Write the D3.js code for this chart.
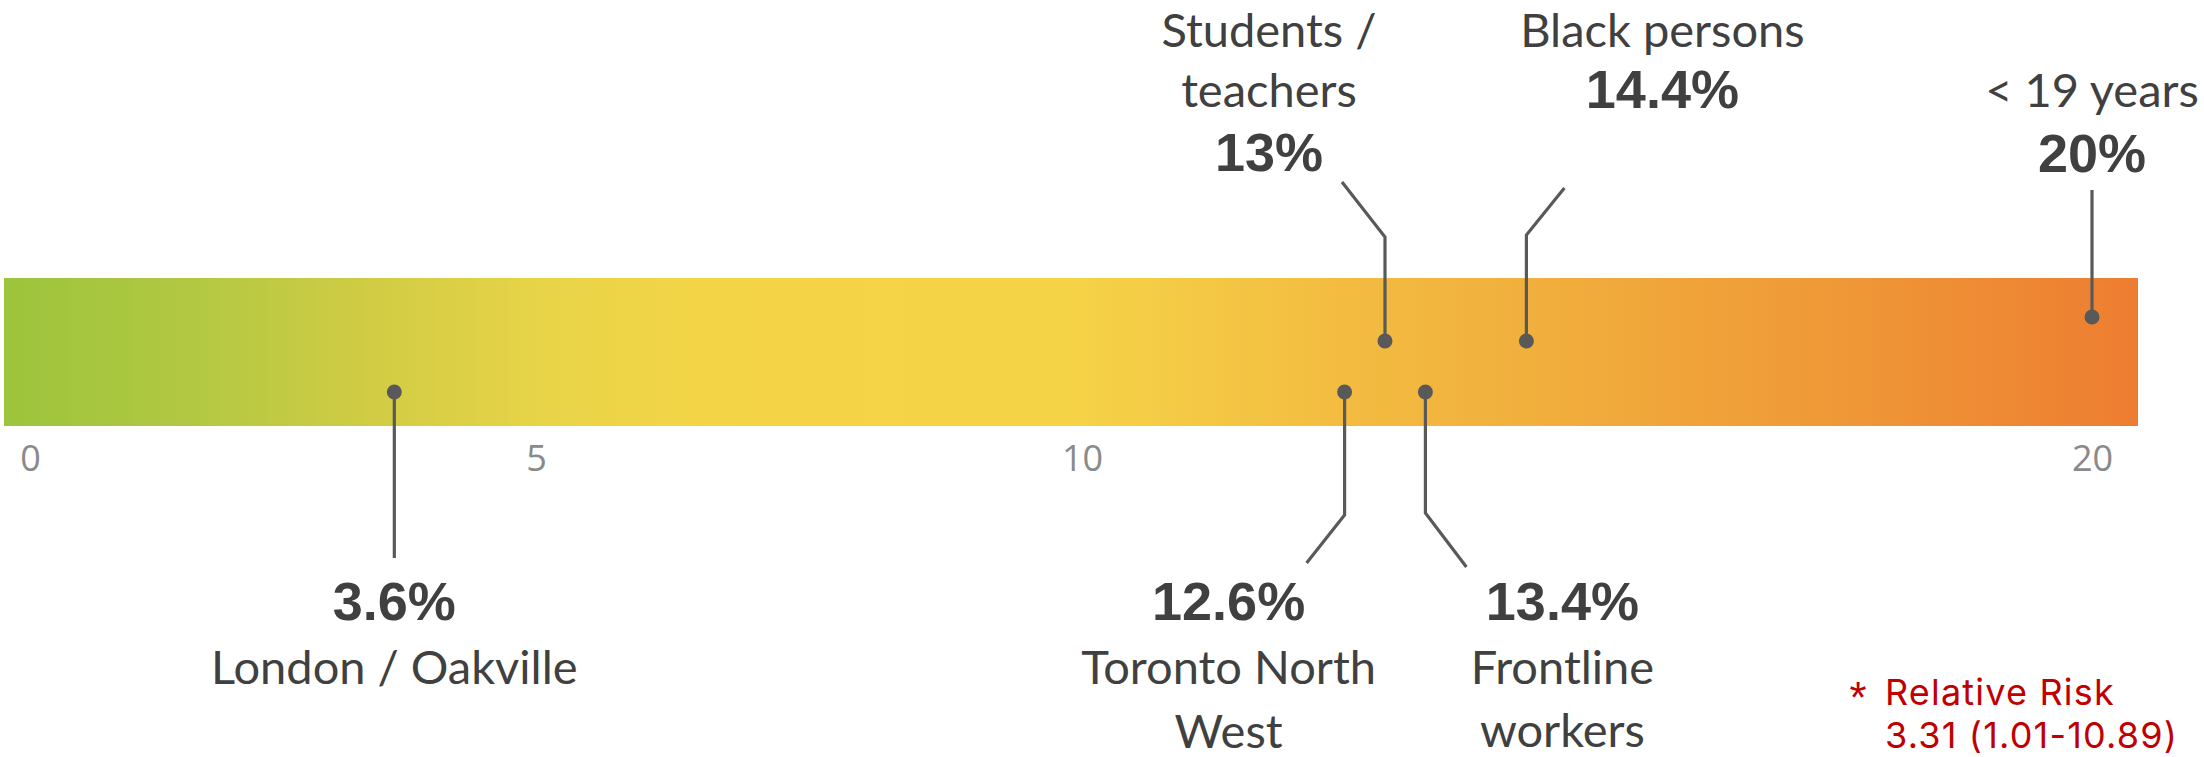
<!DOCTYPE html>
<html><head><meta charset="utf-8">
<script src="https://cdn.jsdelivr.net/npm/d3@7/dist/d3.min.js"></script>
<style>html,body{margin:0;padding:0;background:#fff;overflow:hidden}</style>
</head><body>
<svg id="chart" width="2204" height="757"></svg>
<script>
// ---------- data ----------
const groups = ["London / Oakville", "Toronto North West", "Students / teachers", "Frontline workers", "Black persons", "< 19 years"];
const values = [3.6, 12.6, 13, 13.4, 14.4, 20];
const valueLabels = ["3.6%", "12.6%", "13%", "13.4%", "14.4%", "20%"];
const nameLines = [["London / Oakville"], ["Toronto North", "West"], ["Students /", "teachers"], ["Frontline", "workers"], ["Black persons"], ["< 19 years"]];
const tickValues = [0, 5, 10, 20];
const tickLabels = ["0", "5", "10", "20"];
const footnoteMark = "*";
const footnoteLines = ["Relative Risk", "3.31 (1.01-10.89)"];

// ---------- layout / style ----------
const W = 2204, H = 757;
const bar = {x0: 4, x1: 2138, y0: 278, y1: 426};
const gradientStops = [
  [0, "#9cc43c"], [0.09, "#b3c842"], [0.17, "#d0cc44"], [0.26, "#ead448"],
  [0.33, "#f4d447"], [0.50, "#f5d347"], [0.62, "#f3bd41"], [0.73, "#f1ad3c"],
  [0.86, "#ef9837"], [1, "#ed7d31"]
];
// above-bar labels: nameY = baselines of the name lines; below-bar labels: name lines follow the value
const layout = [
  {side: "below", dotY: 392, elbowY: null, endY: 558, endDx: 0,   labelDx: 0,    valueY: 620, nameY: [684]},
  {side: "below", dotY: 392, elbowY: 515, endY: 563, endDx: -38, labelDx: -116, valueY: 620, nameY: [684, 748]},
  {side: "above", dotY: 341, elbowY: 237, endY: 182, endDx: -43, labelDx: -116, valueY: 171, nameY: [47, 107]},
  {side: "below", dotY: 392, elbowY: 513, endY: 567, endDx: 41,  labelDx: 137,  valueY: 620, nameY: [684, 747]},
  {side: "above", dotY: 341, elbowY: 235, endY: 188, endDx: 38,  labelDx: 136,  valueY: 108, nameY: [47]},
  {side: "above", dotY: 317, elbowY: null, endY: 190, endDx: 0,  labelDx: 0,    valueY: 172, nameY: [107]}
];
const textColor = "#404040", lineColor = "#595959";

const svg = d3.select("#chart").attr("viewBox", `0 0 ${W} ${H}`);

// piecewise linear scale through the printed tick positions
const x = d3.scaleLinear().domain(tickValues).range([30, 536, 1082, 2092]);

// gradient bar
const defs = svg.append("defs");
const grad = defs.append("linearGradient").attr("id", "barGrad")
  .attr("x1", "0%").attr("x2", "100%").attr("y1", "0%").attr("y2", "0%");
grad.selectAll("stop").data(gradientStops).join("stop")
  .attr("offset", d => d[0]).attr("stop-color", d => d[1]);

svg.append("rect")
  .attr("x", bar.x0).attr("y", bar.y0)
  .attr("width", bar.x1 - bar.x0).attr("height", bar.y1 - bar.y0)
  .attr("fill", "url(#barGrad)");

// axis
const axis = d3.axisBottom(x).tickValues(tickValues)
  .tickFormat((d, i) => tickLabels[i]).tickSize(0).tickPadding(0);
const gAxis = svg.append("g").attr("transform", "translate(0,471)").call(axis);
gAxis.select(".domain").remove();
gAxis.selectAll("text").attr("y", 0).attr("dy", 0)
  .attr("font-family", "'Open Sans', sans-serif").attr("font-size", 36)
  .attr("fill", "#8a8a8a");

// annotations
const data = values.map((v, i) => ({v, name: groups[i], lines: nameLines[i], label: valueLabels[i], L: layout[i]}));

const ann = svg.append("g").selectAll("g").data(data).join("g");

ann.append("path")
  .attr("d", d => {
    const cx = x(d.v), L = d.L;
    return L.elbowY == null
      ? `M${cx},${L.dotY}V${L.endY}`
      : `M${cx},${L.dotY}V${L.elbowY}L${cx + L.endDx},${L.endY}`;
  })
  .attr("fill", "none").attr("stroke", lineColor).attr("stroke-width", 3.2);

ann.append("circle")
  .attr("cx", d => x(d.v)).attr("cy", d => d.L.dotY).attr("r", 7.5)
  .attr("fill", lineColor);

ann.append("text")
  .attr("x", d => x(d.v) + d.L.labelDx).attr("y", d => d.L.valueY)
  .attr("text-anchor", "middle")
  .attr("font-family", "'Liberation Sans', Arial, sans-serif")
  .attr("font-weight", "bold").attr("font-size", 54).attr("fill", textColor)
  .text(d => d.label);

ann.each(function(d) {
  const g = d3.select(this);
  d.lines.forEach((t, j) => {
    g.append("text")
      .attr("x", x(d.v) + d.L.labelDx).attr("y", d.L.nameY[j])
      .attr("text-anchor", "middle")
      .attr("font-family", "Lato, sans-serif").attr("font-size", 47)
      .attr("fill", textColor)
      .text(t);
  });
});

// footnote
const fn = svg.append("g").attr("font-family", "Inter, sans-serif")
  .attr("font-size", 36).attr("fill", "#c00000").attr("letter-spacing", 1.2);
fn.append("text").attr("x", 1858).attr("y", 713).attr("text-anchor", "middle")
  .attr("font-family", "'Liberation Sans', Arial, sans-serif")
  .attr("letter-spacing", 0).attr("font-size", 44).text(footnoteMark);
fn.selectAll("text.l").data(footnoteLines).join("text").attr("class", "l")
  .attr("x", 1885).attr("y", (d, i) => 705 + 43 * i).text(d => d);
</script>
</body></html>
